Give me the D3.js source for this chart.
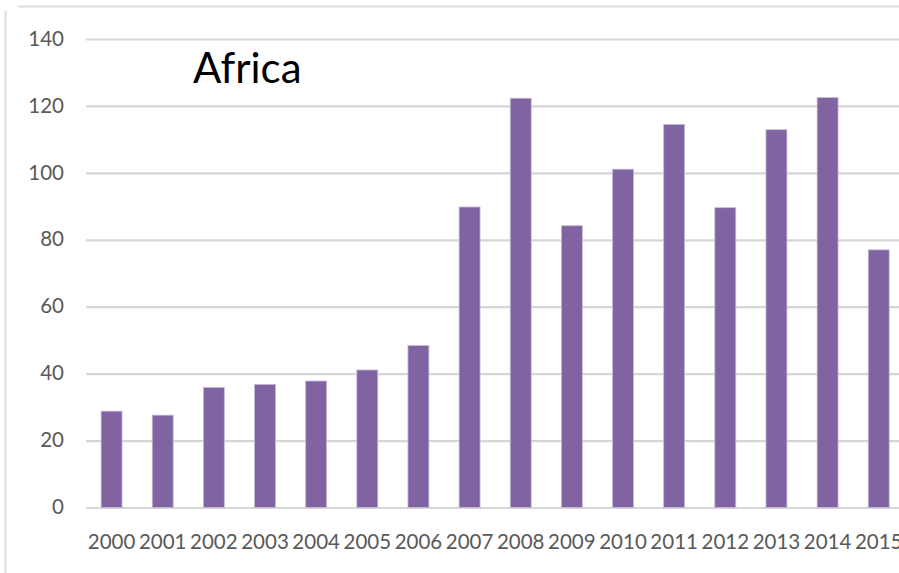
<!DOCTYPE html>
<html>
<head>
<meta charset="utf-8">
<script src="https://cdn.jsdelivr.net/npm/d3@7"></script>
<style>
  html, body { margin: 0; padding: 0; background: #fff; overflow: hidden; }
  svg { display: block; }
</style>
</head>
<body>
<svg id="chart" width="899" height="573"></svg>
<script>
// Yearly values for Africa
const years = ["2000","2001","2002","2003","2004","2005","2006","2007",
               "2008","2009","2010","2011","2012","2013","2014","2015"];
const values = [28.8, 27.6, 35.9, 36.8, 37.8, 41.1, 48.4, 89.8,
                122.3, 84.2, 101.1, 114.5, 89.6, 112.9, 122.5, 77.0];
const yTicks = [0, 20, 40, 60, 80, 100, 120, 140];
const title = "Africa";

const svg = d3.select("#chart");
const W = 899, H = 573;
const font = "Lato, 'Open Sans', sans-serif";

// Plot area
const plotLeft = 86, plotRight = 904.3, plotTop = 39, plotBottom = 507.5;

const x = d3.scaleBand()
  .domain(years)
  .range([plotLeft, plotRight])
  .paddingInner(0.59)
  .paddingOuter(0.295);

const y = d3.scaleLinear()
  .domain([0, 140])
  .range([plotBottom, plotTop]);

// Outer frame lines
svg.append("line")
  .attr("x1", 18).attr("x2", W).attr("y1", 6.5).attr("y2", 6.5)
  .attr("stroke", "#dcdcdc").attr("stroke-width", 2);
svg.append("line")
  .attr("x1", 5.5).attr("x2", 5.5).attr("y1", 11).attr("y2", H)
  .attr("stroke", "#dcdcdc").attr("stroke-width", 2);

// Horizontal gridlines and value labels
const yAxis = d3.axisLeft(y)
  .tickValues(yTicks)
  .tickSize(-(plotRight - plotLeft))
  .tickPadding(22)
  .tickFormat(d3.format("d"));

const gy = svg.append("g")
  .attr("transform", `translate(${plotLeft},0)`)
  .call(yAxis);
gy.select(".domain").remove();
gy.selectAll(".tick line")
  .attr("stroke", "#d6d6d6")
  .attr("stroke-width", 2.2);
gy.selectAll(".tick text")
  .attr("fill", "#595959")
  .attr("font-family", font)
  .attr("font-size", 20.5)
  .attr("dy", "0.3em");

// Bars
svg.append("g")
  .selectAll("rect")
  .data(values)
  .join("rect")
  .attr("x", (d, i) => x(years[i]))
  .attr("y", d => y(d))
  .attr("width", x.bandwidth())
  .attr("height", d => y(0) - y(d))
  .attr("fill", "#8064a2")
  .attr("stroke", "#c9bcdb")
  .attr("stroke-width", 0.8);

// Year labels
const xAxis = d3.axisBottom(x).tickSize(0).tickPadding(27);
const gx = svg.append("g")
  .attr("transform", `translate(0,${plotBottom})`)
  .call(xAxis);
gx.select(".domain").remove();
gx.selectAll(".tick text")
  .attr("fill", "#595959")
  .attr("font-family", font)
  .attr("font-size", 20.5);

// Title
svg.append("text")
  .attr("x", 193)
  .attr("y", 83)
  .attr("font-family", font)
  .attr("font-size", 42)
  .attr("fill", "#000")
  .text(title);
</script>
</body>
</html>
